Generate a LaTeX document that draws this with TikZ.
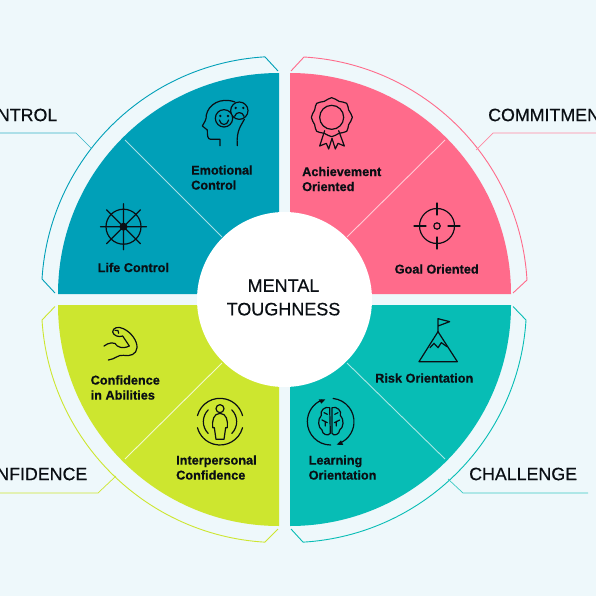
\documentclass[tikz,border=0pt]{standalone}
\usepackage{fontspec}
\setmainfont{Liberation Sans}
\usetikzlibrary{calc}
\definecolor{bgc}{HTML}{EEF8FB}
\definecolor{tealA}{HTML}{00A0B8}
\definecolor{pinkA}{HTML}{FF6B8B}
\definecolor{limeA}{HTML}{CDE62F}
\definecolor{tealB}{HTML}{07BDB5}
\definecolor{inkc}{HTML}{0A0F14}
\tikzset{
  thinline/.style={line width=0.9pt},
  leader/.style={line width=.7pt},
  icon/.style={draw=inkc,line width=1.2pt,line join=round,line cap=round},
  seclabel/.style={font=\fontsize{12.7}{15}\selectfont\bfseries\addfontfeature{FakeBold=0.6},text=inkc,align=left,inner sep=0pt},
  headlabel/.style={font=\fontsize{17.8}{22}\selectfont\addfontfeature{FakeBold=0.5},text=inkc,inner sep=0pt},
  zoomA/.style={shift={(0,40)},scale=1/3},
  zoomB/.style={shift={(298,40)},scale=1/3},
  zoomC/.style={shift={(0,296)},scale=1/3},
  zoomD/.style={shift={(298,296)},scale=1/3}
}
\begin{document}
\begin{tikzpicture}[x=1pt,y=-1pt]
\useasboundingbox (0,0) rectangle (596,596);
\clip (0,0) rectangle (596,596);
\fill[bgc] (0,0) rectangle (596,596);
% quadrants
\fill[tealA] (279,294) -- (58,294) arc[start angle=180,end angle=270,radius=221] -- cycle;
\fill[pinkA] (290,294) -- (290,73) arc[start angle=-90,end angle=0,radius=221] -- cycle;
\fill[limeA] (279,305) -- (279,526) arc[start angle=90,end angle=180,radius=221] -- cycle;
\fill[tealB] (290,305) -- (511,305) arc[start angle=0,end angle=90,radius=221] -- cycle;
% dividers
\coordinate (d1a) at (125,140); \coordinate (d1b) at (222,237);
\coordinate (d2a) at (445,140); \coordinate (d2b) at (347,237);
\coordinate (d3a) at (125,459); \coordinate (d3b) at (222,363);
\coordinate (d4a) at (445,459); \coordinate (d4b) at (347,363);
\draw[thinline,draw=tealA!35!white] (d1a) -- (d1b);
\draw[thinline,draw=pinkA!35!white] (d2a) -- (d2b);
\draw[thinline,draw=limeA!25!white] (d3a) -- (d3b);
\draw[thinline,draw=tealB!35!white] (d4a) -- (d4b);
% centre
\node[circle,fill=white,minimum size=175pt,inner sep=0pt] (hub) at (284.5,299.5) {};
\node[font=\fontsize{18}{23.5}\selectfont\addfontfeature{FakeBold=0.5},align=center,text=inkc,inner sep=0pt] (hubtext) at (283.5,297.5) {MENTAL\\TOUGHNESS};
% outer brackets
\draw[thinline,draw=tealA,line join=round] (55,293) -- (42,279) arc[start angle=183.6,end angle=266.6,radius=237.5] -- (278,71);
\draw[thinline,draw=pinkA,line join=round] (291,71) -- (304,57) arc[start angle=-86.6,end angle=-3.4,radius=237.5] -- (513,293);
\draw[thinline,draw=limeA,line join=round] (55,306.5) -- (42,320) arc[start angle=176.4,end angle=93.4,radius=237.5] -- (278,529);
\draw[thinline,draw=tealB,line join=round] (513,306.5) -- (526,320) arc[start angle=3.6,end angle=86.6,radius=237.5] -- (291,529);
% headings and leaders
\node[headlabel,anchor=east] (hA) at (57.5,115) {CONTROL};
\node[headlabel,anchor=west] (hB) at (488,115) {COMMITMENT};
\node[headlabel,anchor=east] (hC) at (87.5,474) {CONFIDENCE};
\node[headlabel,anchor=west] (hD) at (469,474) {CHALLENGE};
\coordinate (lA) at (0,133); \coordinate (lAe) at (92,149);
\coordinate (lB) at (596,133); \coordinate (lBe) at (476,150);
\coordinate (lC) at (0,493); \coordinate (lCe) at (116,476);
\coordinate (lD) at (588,493); \coordinate (lDe) at (448,479);
\draw[leader,draw=tealA!80!white] (lA) -- (76,133) -- (lAe);
\draw[leader,draw=pinkA!80!white] (lB) -- (493,133) -- (lBe);
\draw[leader,draw=limeA] (lC) -- (98,493) -- (lCe);
\draw[leader,draw=tealB!80!white] (lD) -- (463,493) -- (lDe);
% section labels
\node[seclabel,anchor=west] (l1) at (191,177.5) {Emotional\\Control};
\node[seclabel,anchor=west] (l2) at (97.5,267.5) {Life Control};
\node[seclabel,anchor=west] (l3) at (302,179) {Achievement\\Oriented};
\node[seclabel,anchor=west] (l4) at (394.5,269) {Goal Oriented};
\node[seclabel,anchor=west] (l5) at (90.5,387.5) {Confidence\\in Abilities};
\node[seclabel,anchor=west] (l6) at (176,467.5) {Interpersonal\\Confidence};
\node[seclabel,anchor=west] (l7) at (375,378) {Risk Orientation};
\node[seclabel,anchor=west] (l8) at (308.5,467.5) {Learning\\Orientation};
% wheel icon
\begin{scope}[shift={(123.5,226.7)}]
\draw[icon] (0,0) circle (17.5);
\fill[inkc] (0,0) circle (4);
\draw[icon] (-23,0) -- (23,0) (0,-23) -- (0,23) (-17,-17) -- (17,17) (-17,17) -- (17,-17);
\end{scope}
% target icon
\begin{scope}[shift={(437,226)}]
\draw[icon] (0,0) circle (17.5) (0,0) circle (3.2);
\draw[icon] (-23,0) -- (-11,0) (23,0) -- (11,0) (0,-23) -- (0,-11) (0,23) -- (0,11);
\end{scope}
% head icon
\begin{scope}[zoomA]
\draw[icon] (660,317) -- (660,298) -- (632,298) .. controls (622,298) and (622,285) .. (622,270) -- (607,258) .. controls (612,248) and (620,240) .. (619,225) .. controls (625,195) and (660,170) .. (705,186);
\draw[icon] (733,238) .. controls (725,255) and (708,270) .. (712,317);
\fill[tealA] (672,235) circle (26) (718,212) circle (26);
\draw[icon] (672,235) circle (26) (718,212) circle (26);
\draw[icon] (658,240) .. controls (662,258) and (682,258) .. (686,240);
\draw[icon] (704,229) .. controls (708,214) and (728,214) .. (732,229);
\fill[inkc] (661,228) circle (4) (684,228) circle (4) (707,204) circle (4) (730,204) circle (4);
\end{scope}
% rosette icon
\begin{scope}[zoomB]
\draw[icon] (101,232) circle (36);
\draw[icon] plot[smooth cycle,tension=.6] coordinates {(101,173) (123,184) (146,190) (152,210) (163,232) (152,254) (146,274) (123,280) (101,290) (79,280) (56,274) (50,254) (40,232) (50,210) (56,190) (79,184)};
\draw[icon] (80,272) -- (65,318) -- (85,310) -- (92,327) -- (102,295) -- (112,327) -- (120,310) -- (139,318) -- (122,272);
\end{scope}
% muscle icon
\begin{scope}[zoomC]
\draw[icon] (312,150) .. controls (325,140) and (345,135) .. (352,150) .. controls (365,158) and (378,155) .. (388,150) -- (368,120) .. controls (355,125) and (340,118) .. (338,108) .. controls (338,95) and (355,90) .. (370,98) .. controls (395,110) and (412,135) .. (411,155) .. controls (410,175) and (390,182) .. (370,178) .. controls (355,175) and (345,190) .. (325,192);
\draw[icon] (345,103) .. controls (352,100) and (358,105) .. (356,112);
\end{scope}
% person icon
\begin{scope}[zoomC]
\draw[icon] (660,338) circle (12);
\draw[icon] (648,430) -- (643,395) -- (638,395) .. controls (636,375) and (640,352) .. (660,352) .. controls (680,352) and (684,375) .. (682,395) -- (677,395) -- (672,430) -- cycle;
\draw[icon] ($(660,377)+(195:70)$) arc[start angle=195,end angle=345,radius=70];
\draw[icon] ($(660,377)+(15:70)$) arc[start angle=15,end angle=165,radius=70];
\draw[icon] ($(660,377)+(-45:50)$) arc[start angle=-45,end angle=45,radius=50];
\draw[icon] ($(660,377)+(135:50)$) arc[start angle=135,end angle=225,radius=50];
\end{scope}
% mountain icon
\begin{scope}[zoomD]
\draw[icon] (363,197) -- (420,107) -- (478,197) -- cycle;
\draw[icon] (420,107) -- (420,68) -- (455,77) -- (420,90);
\draw[icon] (396,155) -- (408,142) -- (420,155) -- (430,140) -- (447,152);
\end{scope}
% brain icon
\begin{scope}[zoomD]
\draw[icon] ($(98,377)+(-84:70)$) arc[start angle=-84,end angle=68,radius=70];
\draw[icon] ($(98,377)+(90:70)$) arc[start angle=90,end angle=248,radius=70];
\fill[inkc] (82,310) -- (62,310) -- (70,323) -- cycle;
\fill[inkc] (116,446) -- (136,447) -- (129,433) -- cycle;
\draw[icon] (95,335) .. controls (80,330) and (65,345) .. (70,358) .. controls (58,370) and (60,395) .. (72,402) .. controls (72,415) and (90,422) .. (97,412) -- cycle;
\draw[icon] (102,335) .. controls (117,330) and (132,345) .. (127,358) .. controls (139,370) and (137,395) .. (125,402) .. controls (125,415) and (107,422) .. (102,412) -- cycle;
\draw[icon] (72,372) -- (88,380) (82,376) -- (82,390) (125,372) -- (109,380) (115,376) -- (115,390) (78,350) -- (88,355) (120,350) -- (110,355);
\end{scope}
\end{tikzpicture}
\end{document}
